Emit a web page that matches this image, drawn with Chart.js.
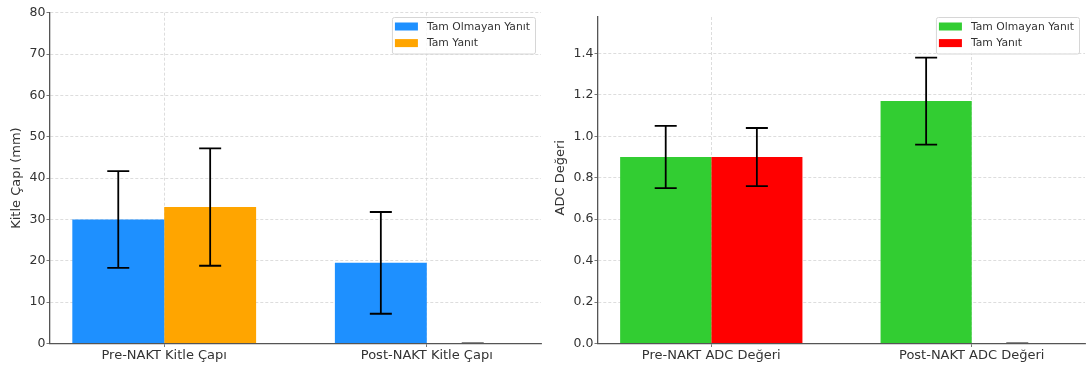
<!DOCTYPE html>
<html>
<head>
<meta charset="utf-8">
<title>Kitle Çapı ve ADC Değeri</title>
<script src="https://cdn.jsdelivr.net/npm/chart.js"></script>
<style>
  html, body { margin: 0; padding: 0; background: #fff; }
  .box { position: absolute; overflow: hidden; }
  #left { left: 0; top: 0; width: 545px; height: 365px; }
  /* right panel is cropped at the top in the reference */
  #right { left: 545px; top: 16px; width: 541px; height: 349px; }
  #rightInner { position: absolute; left: 0; top: -16px; width: 541px; height: 365px; }
</style>
</head>
<body>
<div class="box" id="left"><canvas id="kitleChart"></canvas></div>
<div class="box" id="right"><div id="rightInner"><canvas id="adcChart"></canvas></div></div>

<script>
// data
const seriesNames = ['Tam Olmayan Yanıt', 'Tam Yanıt'];
const groupPos = [0, 1];

const kitleLabels = ['Pre-NAKT Kitle Çapı', 'Post-NAKT Kitle Çapı'];
const kitleEksik = [30.0, 19.5];
const kitleTam = [33.0, 0];
const kitleEksikErr = [11.7, 12.3];
const kitleTamErr = [14.2, 0];

const adcLabels = ['Pre-NAKT ADC Değeri', 'Post-NAKT ADC Değeri'];
const adcEksik = [0.90, 1.17];
const adcTam = [0.90, 0];
const adcEksikErr = [0.15, 0.21];
const adcTamErr = [0.14, 0];

const FONT = "'DejaVu Sans', sans-serif";
const TXT = '#333';

// error bars drawn with the y scale
const errorBars = {
  id: 'errorBars',
  afterDatasetsDraw(chart) {
    const ctx = chart.ctx, y = chart.scales.y;
    chart.data.datasets.forEach((ds, i) => {
      const meta = chart.getDatasetMeta(i);
      meta.data.forEach((bar, j) => {
        const v = ds.data[j].y, e = ds.errors[j];
        const top = y.getPixelForValue(v + e), bot = y.getPixelForValue(v - e);
        ctx.save();
        ctx.strokeStyle = e === 0 ? '#888' : '#000';
        ctx.lineWidth = e === 0 ? 1 : 1.8;
        ctx.beginPath();
        if (e > 0) { ctx.moveTo(bar.x, top); ctx.lineTo(bar.x, bot); }
        ctx.moveTo(bar.x - 11, top - (e === 0 ? 1 : 0)); ctx.lineTo(bar.x + 11, top - (e === 0 ? 1 : 0));
        if (e > 0) { ctx.moveTo(bar.x - 11, bot); ctx.lineTo(bar.x + 11, bot); }
        ctx.stroke();
        ctx.restore();
      });
    });
  }
};

// matplotlib-like legend box in the upper right
const boxLegend = {
  id: 'boxLegend',
  afterDraw(chart, args, opts) {
    const ctx = chart.ctx;
    const ds = chart.data.datasets;
    ctx.save();
    ctx.font = '10.8px ' + FONT;
    let tw = 0;
    ds.forEach(d => { tw = Math.max(tw, ctx.measureText(d.label).width); });
    const w = 3 + 23 + 9 + tw + 5;
    const h = 36.5;
    const x0 = chart.chartArea.right - 6 - w;
    const y0 = opts.top;
    ctx.fillStyle = 'rgba(255,255,255,0.8)';
    ctx.strokeStyle = '#d6d6d6';
    ctx.lineWidth = 1;
    ctx.beginPath();
    ctx.roundRect(x0 + 0.5, y0 + 0.5, w, h, 2);
    ctx.fill();
    ctx.stroke();
    ds.forEach((d, i) => {
      const cy = y0 + 9.5 + i * 16.6;
      ctx.fillStyle = d.backgroundColor;
      ctx.fillRect(x0 + 3, cy - 4, 23, 8);
      ctx.fillStyle = TXT;
      ctx.textBaseline = 'middle';
      ctx.fillText(d.label, x0 + 35, cy + 0.5);
    });
    ctx.restore();
  }
};

function makeChart(id, labels, s1, s2, e1, e2, colors, yOpts, yTitle, pad, yWidth, titlePad) {
  const toPts = arr => arr.map((v, j) => ({ x: groupPos[j], y: v }));
  return new Chart(document.getElementById(id), {
    type: 'bar',
    data: {
      datasets: [
        { label: seriesNames[0], data: toPts(s1), errors: e1, backgroundColor: colors[0], borderWidth: 0 },
        { label: seriesNames[1], data: toPts(s2), errors: e2, backgroundColor: colors[1], borderWidth: 0 }
      ]
    },
    options: {
      responsive: true,
      maintainAspectRatio: false,
      animation: false,
      categoryPercentage: 0.7,
      barPercentage: 1.0,
      layout: { padding: pad },
      plugins: {
        legend: { display: false },
        tooltip: { enabled: false },
        boxLegend: { top: 17 }
      },
      scales: {
        x: {
          type: 'linear',
          min: -0.435,
          max: 1.435,
          offset: false,
          afterBuildTicks: ax => { ax.ticks = groupPos.map(v => ({ value: v })); },
          afterFit: ax => { ax.height = 21.5; },
          ticks: {
            callback: v => labels[groupPos.indexOf(v)],
            font: { family: FONT, size: 13 },
            color: TXT,
            padding: 0.5,
            maxRotation: 0
          },
          grid: { offset: false, color: '#d4d4d4', lineWidth: 0.8, tickLength: 3.5, tickColor: '#555' },
          border: { color: '#555', width: 1.3, dash: [3, 2] }
        },
        y: Object.assign({
          afterFit: ax => { ax.width = yWidth; },
          title: { display: true, text: yTitle, font: { family: FONT, size: 13 }, color: TXT, padding: { top: titlePad, bottom: 0 } },
          grid: { color: '#d4d4d4', lineWidth: 0.8, tickLength: 3.5, tickColor: '#555' },
          border: { color: '#555', width: 1.3, dash: [3, 2] }
        }, yOpts)
      }
    },
    plugins: [errorBars, boxLegend]
  });
}

Chart.defaults.font.family = FONT;

makeChart('kitleChart', kitleLabels, kitleEksik, kitleTam, kitleEksikErr, kitleTamErr,
  ['#1E90FF', '#FFA500'],
  { min: 0, max: 80, ticks: { stepSize: 10, font: { family: FONT, size: 12.5 }, color: TXT, padding: 1 } },
  'Kitle Çapı (mm)', { top: 12.7, right: 4, left: 0, bottom: 0 }, 50, 9);

makeChart('adcChart', adcLabels, adcEksik, adcTam, adcEksikErr, adcTamErr,
  ['#32CD32', '#FF0000'],
  { min: 0, max: 1.6, ticks: { stepSize: 0.2, font: { family: FONT, size: 12.5 }, color: TXT, padding: 1, callback: v => v.toFixed(1) } },
  'ADC Değeri', { top: 12, right: 1, left: 0, bottom: 0 }, 53, 8);
</script>
</body>
</html>
